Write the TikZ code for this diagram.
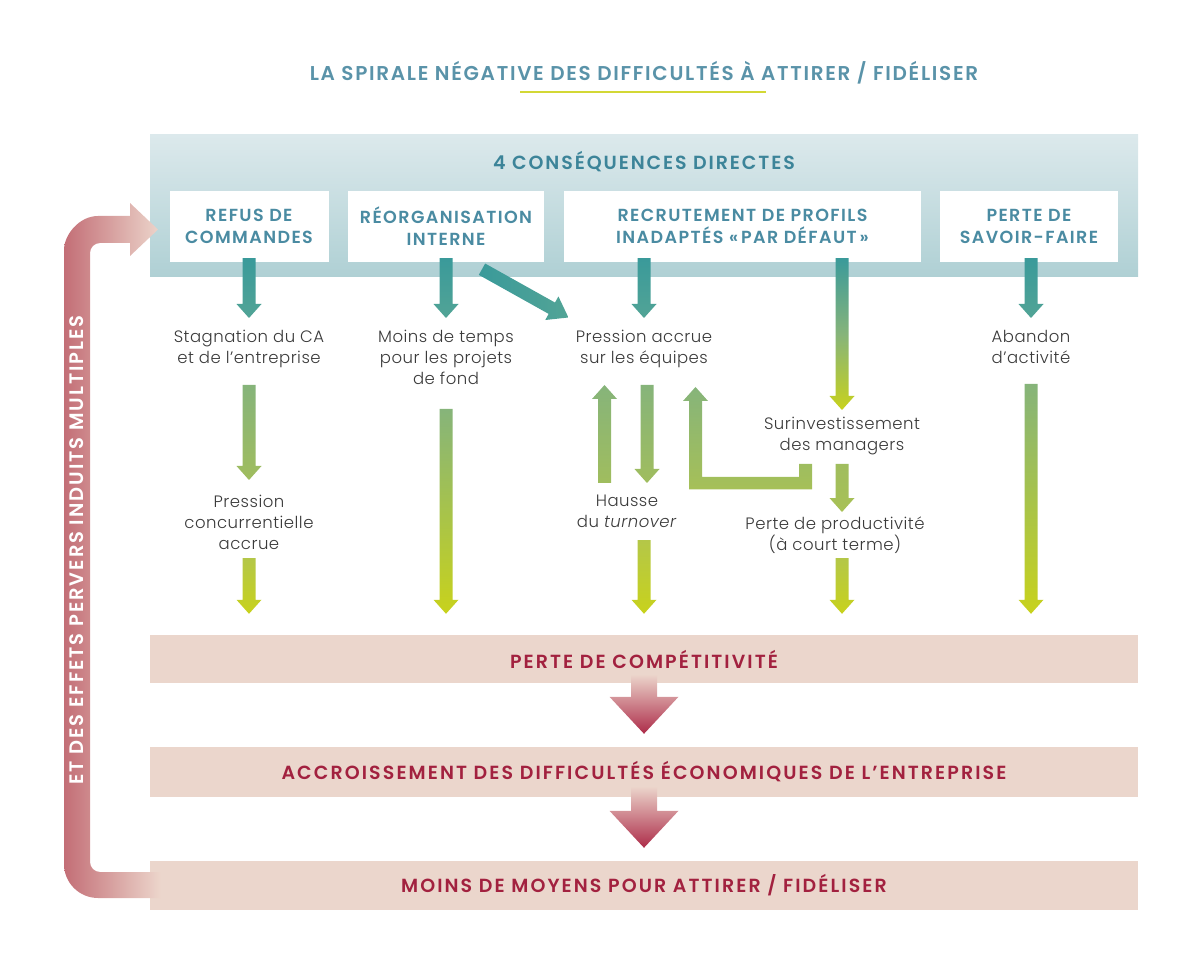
\documentclass[tikz,border=0pt]{standalone}
\usepackage{fontspec}
\setmainfont{Poppins}[UprightFont={* Light}, ItalicFont={* Light Italic}, BoldFont={* SemiBold}]
\usetikzlibrary{calc}

\definecolor{titleblue}{HTML}{5A93A9}
\definecolor{headblue}{HTML}{3C8499}
\definecolor{boxblue}{HTML}{4A8BA2}
\definecolor{crimson}{HTML}{A2213F}
\definecolor{notegray}{HTML}{3A3A3A}
\definecolor{paneltop}{HTML}{DCE9EC}
\definecolor{panelbot}{HTML}{AFD0D4}
\definecolor{bandpink}{HTML}{EBD6CC}
\definecolor{tealA}{HTML}{3A9A9A}
\definecolor{tealB}{HTML}{52A496}
\definecolor{greenA}{HTML}{86B47A}
\definecolor{greenB}{HTML}{A0BD5E}
\definecolor{limeA}{HTML}{B4C748}
\definecolor{limeB}{HTML}{C8D21C}
\definecolor{redtop}{HTML}{EBD3CA}
\definecolor{redbot}{HTML}{AD2C49}
\definecolor{loopdark}{HTML}{C36E76}
\definecolor{looplight}{HTML}{ECD5CB}
\definecolor{ulyellow}{HTML}{D3D835}

% vertical block arrow: shading, from, to (only y used), half shaft, half head, head length
\newcommand{\blockv}[6]{%
  \path[#1] let \p1=#2, \p2=#3, \n1={ifthenelse(\y1>\y2,1,-1)} in
    (\x1-#4,\y1) -- (\x1-#4,{\y2+\n1*#6}) -- (\x1-#5,{\y2+\n1*#6}) -- (\x1,\y2)
    -- (\x1+#5,{\y2+\n1*#6}) -- (\x1+#4,{\y2+\n1*#6}) -- (\x1+#4,\y1) -- cycle;}
\newcommand{\varrow}[3]{\blockv{#1}{#2}{#3}{6.5pt}{12.5pt}{14pt}}

\begin{document}
\begin{tikzpicture}[x=1pt, y=-1pt,
  title/.style = {text=titleblue, font=\bfseries\fontsize{20}{24}\selectfont\addfontfeature{LetterSpace=8.5}, inner sep=0pt},
  head/.style = {text=headblue, font=\bfseries\fontsize{19}{22}\selectfont\addfontfeature{LetterSpace=10}, inner sep=0pt},
  panel/.style = {top color=paneltop, bottom color=panelbot, minimum width=988pt, minimum height=142pt, inner sep=0pt},
  box/.style = {fill=white, minimum height=71pt, inner sep=0pt, align=center, text=boxblue, font=\bfseries\fontsize{17.5}{22}\selectfont\addfontfeature{LetterSpace=8}},
  note/.style = {anchor=north, align=center, inner sep=0pt, text=notegray, font=\fontsize{16.5}{21}\selectfont\addfontfeature{LetterSpace=3}},
  band/.style = {fill=bandpink, minimum width=988pt, inner sep=0pt, text=crimson, font=\bfseries\fontsize{19}{22}\selectfont\addfontfeature{LetterSpace=11}},
  loopt/.style = {text=white, font=\bfseries\fontsize{19.5}{22}\selectfont\addfontfeature{LetterSpace=10}, inner sep=0pt}]
  \useasboundingbox (0,0) rectangle (1200,973);

  \node[title] (title) at (644,73) {LA SPIRALE NÉGATIVE DES DIFFICULTÉS À ATTIRER / FIDÉLISER};
  \draw[ulyellow, line width=2.2pt] (520,92) -- (766,92);

  % top panel and the four consequences
  \node[panel] (panel) at (644,206) {};
  \node[head] (conseq) at (644,162) {4 CONSÉQUENCES DIRECTES};
  \node[box, minimum width=159pt] (refus) at (249,226.5) {REFUS DE\\COMMANDES};
  \node[box, minimum width=196pt] (reorg) at (446,226.5) {RÉORGANISATION\\INTERNE};
  \node[box, minimum width=357pt] (recrut) at (742.5,226.5) {RECRUTEMENT DE PROFILS\\INADAPTÉS «\,PAR DÉFAUT\,»};
  \node[box, minimum width=178pt] (savoir) at (1029,226.5) {PERTE DE\\SAVOIR-FAIRE};

  % effects
  \node[note] (stagn) at (249,330) {Stagnation du CA\\et de l’entreprise};
  \node[note] (temps) at (446,330) {Moins de temps\\pour les projets\\de fond};
  \node[note] (press) at (644,330) {Pression accrue\\sur les équipes};
  \node[note] (aband) at (1031,330) {Abandon\\d’activité};
  \node[note] (concur) at (249,495) {Pression\\concurrentielle\\accrue};
  \node[note] (turn) at (627,495) {Hausse\\du \textit{turnover}};
  \node[note] (surinv) at (842,417) {Surinvestissement\\des managers};
  \node[note] (produc) at (835,517) {Perte de productivité\\(à court terme)};

  % bottom bands
  \node[band, minimum height=48pt] (compet) at (644,659) {PERTE DE COMPÉTITIVITÉ};
  \node[band, minimum height=50pt] (accroi) at (644,772) {ACCROISSEMENT DES DIFFICULTÉS ÉCONOMIQUES DE L’ENTREPRISE};
  \node[band, minimum height=49pt] (moyens) at (644,885.5) {MOINS DE MOYENS POUR ATTIRER / FIDÉLISER};

  % arrows out of the boxes
  \varrow{top color=tealA, bottom color=tealB}{([yshift=4pt]refus.south)}{([yshift=12pt]stagn.north)}
  \varrow{top color=tealA, bottom color=tealB}{([yshift=4pt]reorg.south)}{([yshift=12pt]temps.north)}
  \varrow{top color=tealA, bottom color=tealB}{([xshift=-98.5pt,yshift=4pt]recrut.south)}{([yshift=12pt]press.north)}
  \varrow{top color=tealA, bottom color=limeB, middle color=greenA}{([xshift=99.5pt,yshift=4pt]recrut.south)}{([yshift=7pt]surinv.north)}
  \varrow{top color=tealA, bottom color=tealB}{([xshift=2pt,yshift=4pt]savoir.south)}{([yshift=12pt]aband.north)}
  \begin{scope}[shift={([xshift=36pt,yshift=-7pt]reorg.south)}, rotate=-29.2]
    \path[left color=tealA, right color=tealB] (0,-6.5) -- (80,-6.5) -- (80,-13.5) -- (99,0)
      -- (80,13.5) -- (80,6.5) -- (0,6.5) -- cycle;
  \end{scope}

  % arrows between effects
  \varrow{top color=greenA, bottom color=greenB}{([yshift=-55pt]stagn.north)}{([yshift=15pt]concur.north)}
  \varrow{top color=greenA, bottom color=greenB}{([xshift=3pt,yshift=-55pt]press.north)}{([yshift=12pt]turn.north)}
  \varrow{top color=greenA, bottom color=greenB}{([xshift=-22.5pt,yshift=12pt]turn.north)}{([yshift=-55pt]press.north)}
  \varrow{top color=greenB, bottom color=greenB!60!limeA}{([yshift=-47pt]surinv.north)}{([yshift=5pt]produc.north)}
  \path[top color=greenA, bottom color=greenB!70!limeA] (799,464) -- (812,464) -- (812,489.5) -- (689,489.5)
    -- (689,401) -- (683,401) -- (695.5,387) -- (708,401) -- (702,401) -- (702,477) -- (799,477) -- cycle;

  % arrows into the competitiveness band
  \varrow{top color=greenA, bottom color=limeB}{([yshift=-79pt]temps.north)}{([yshift=21pt]compet.north)}
  \varrow{top color=greenA, bottom color=limeB}{([yshift=-54pt]aband.north)}{([yshift=21pt]compet.north)}
  \varrow{top color=limeA, bottom color=limeB}{([yshift=-63pt]concur.north)}{([yshift=21pt]compet.north)}
  \varrow{top color=limeA, bottom color=limeB}{([xshift=17pt,yshift=-45pt]turn.north)}{([yshift=21pt]compet.north)}
  \varrow{top color=limeA, bottom color=limeB}{([xshift=7pt,yshift=-41pt]produc.north)}{([yshift=21pt]compet.north)}

  % big arrows between bands
  \blockv{top color=redtop, bottom color=redbot}{([yshift=8pt]compet.south)}{([yshift=13pt]accroi.north)}{13pt}{34.5pt}{37pt}
  \blockv{top color=redtop, bottom color=redbot}{([yshift=10pt]accroi.south)}{([yshift=13pt]moyens.north)}{13pt}{34.5pt}{37pt}

  % feedback loop
  \path[left color=loopdark, right color=looplight] (160,898) -- (98,898) .. controls (79.2,898) and (64,882.8) .. (64,864)
    -- (64,250) .. controls (64,234.8) and (79.2,216) .. (98,216) -- (130,216) -- (130,203) -- (158,229.5)
    -- (130,256) -- (130,243) -- (100,243) .. controls (94.5,243) and (90,247.5) .. (90,253)
    -- (90,862) .. controls (90,867.5) and (94.5,872) .. (100,872) -- (160,872) -- cycle;
  \node[loopt, rotate=90] (loop) at (77,550) {ET DES EFFETS PERVERS INDUITS MULTIPLES};
\end{tikzpicture}
\end{document}
